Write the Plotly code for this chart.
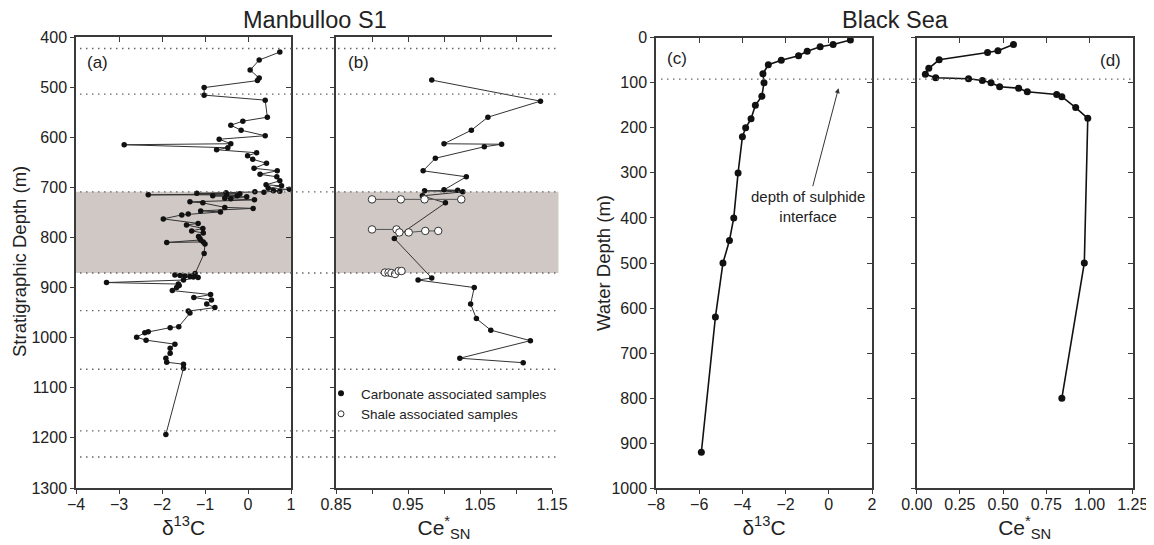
import plotly.graph_objects as go

# ---------------- data ----------------
# Panel (a): Manbulloo S1 carbonate d13C vs stratigraphic depth (m)
a_depth = [430, 446, 466, 482, 487, 501, 516, 526, 560, 568, 576, 586, 597, 604, 613, 615, 621, 625,
           631, 637, 644, 652, 662, 667, 674, 679, 687, 695, 697, 702, 704, 707, 708, 709, 710,
           711, 712, 713, 715, 715, 717, 717, 719, 722, 723, 725, 729, 731, 740, 742, 747, 749,
           753, 755, 763, 772, 775, 782, 787, 791, 798, 802, 805, 810, 809, 813, 832,
           872, 875, 876, 877, 878, 879, 880, 885, 890, 893, 896, 900, 906, 914, 920, 925, 933,
           940, 947, 951, 978, 980, 988, 990, 999, 1005, 1013, 1021, 1031, 1041, 1049, 1053, 1061, 1193]
a_d13c = [0.74, 0.26, 0.05, 0.26, 0.22, -1.02, -1.02, 0.40, 0.45, -0.12, -0.40, -0.16, 0.40, -0.67, -0.40, -2.88, -0.47, -0.73,
          0.20, -0.01, 0.11, 0.43, 0.14, 0.68, 0.28, 0.67, 0.74, 0.42, 0.78, 0.47, 0.96, 0.59, 0.74, 0.16, 0.37,
          -0.51, -1.19, -0.19, -2.32, -0.50, -0.25, -0.82, -0.03, -0.54, -0.40, 0.15, -1.35, -1.05, -0.54, 0.12, -1.10, -0.64,
          -1.39, -1.54, -1.97, -1.16, -1.43, -1.05, -1.31, -1.04, -1.15, -1.12, -1.10, -1.89, -1.04, -1.00, -1.02,
          -1.23, -1.70, -1.58, -1.47, -1.35, -1.27, -1.16, -1.50, -3.29, -1.62, -1.60, -1.66, -1.76, -0.87, -1.26, -0.85, -0.96,
          -0.77, -1.39, -1.35, -1.61, -1.81, -2.32, -2.40, -2.59, -2.37, -1.70, -1.81, -1.81, -1.91, -1.89, -1.50, -1.50, -1.91]

# Panel (b): Ce*SN, carbonate associated samples
b_carb_depth = [486, 528, 560, 586, 613, 614, 619, 642, 667, 679, 705, 706, 707, 709, 717, 731, 802,
                881, 885, 900, 933, 962, 985, 1006, 1041, 1050]
b_carb_ce = [0.983, 1.134, 1.061, 1.038, 1.000, 1.080, 1.056, 0.988, 0.971, 1.031, 1.000, 1.019, 0.973, 1.026, 0.970, 1.002, 0.931,
             0.983, 0.964, 1.042, 1.037, 1.045, 1.065, 1.120, 1.022, 1.110]
# Panel (b): shale associated samples (three sample groups)
b_shale1_depth = [724, 724, 724, 724]
b_shale1_ce = [0.900, 0.940, 0.973, 1.024]
b_shale2_depth = [784, 784, 790, 790, 787, 787]
b_shale2_ce = [0.900, 0.934, 0.938, 0.951, 0.974, 0.992]
b_shale3_depth = [870, 870, 871, 873, 867, 867]
b_shale3_ce = [0.918, 0.923, 0.927, 0.932, 0.937, 0.941]

# Panel (c): Black Sea d13C vs water depth (m)
c_depth = [5, 15, 20, 30, 40, 50, 60, 80, 100, 130, 150, 180, 200, 220, 300, 400, 450, 500, 620, 920]
c_d13c = [1.0, 0.2, -0.4, -1.0, -1.4, -2.2, -2.8, -3.05, -3.0, -3.1, -3.4, -3.6, -3.85, -4.0, -4.2, -4.4, -4.6, -4.9, -5.25, -5.9]

# Panel (d): Black Sea Ce*SN vs water depth (m)
d_depth = [15, 29, 33, 49, 68, 81, 89, 91, 95, 100, 109, 112, 120, 126, 131, 155, 179, 500, 800]
d_ce = [0.56, 0.47, 0.41, 0.13, 0.07, 0.05, 0.11, 0.30, 0.38, 0.43, 0.48, 0.59, 0.64, 0.81, 0.84, 0.92, 0.99, 0.97, 0.84]

# boundaries
manbulloo_boundaries = [423, 514, 709, 871, 946, 1063, 1186, 1238]
shaded_interval = [709, 871]
sulphide_interface_depth = 92

# tick labels
a_ticks = [-4, -3, -2, -1, 0, 1]
b_ticks = [0.85, 0.95, 1.05, 1.15]
b_minor_ticks = [0.90, 1.00, 1.10]
b_all_ticks = [0.85, 0.90, 0.95, 1.00, 1.05, 1.10, 1.15]
d_ticks = [0, 0.25, 0.5, 0.75, 1.0, 1.25]
d_ticktext = ["0.00", "0.25", "0.50", "0.75", "1.00", "1.25"]

# ---------------- layout geometry ----------------
# the page body adds an 8px offset; the figure fills the rest of the window
OFF = 8
W, H = 1154 - OFF, 545 - OFF
FONT = "Liberation Sans"
AX = "#3a3a3a"
TXT = "#222222"

def px(x):
    return (x - OFF) / W

def py(y):
    return 1 - (y - OFF) / H

dom_a = [px(76), px(291)]
dom_b = [px(336), px(552)]
dom_c = [px(656), px(872)]
dom_d = [px(916.7), px(1132.7)]
ydom_ab = [py(488), py(37)]
ydom_cd = [py(488.3), py(37.7)]

fig = go.Figure()

line_a = dict(color="#333333", width=1)
mk = dict(color="#111111", size=5.5)

fig.add_trace(go.Scatter(x=a_d13c, y=a_depth, mode="lines+markers", line=line_a, marker=mk,
                         xaxis="x", yaxis="y", showlegend=False))
fig.add_trace(go.Scatter(x=b_carb_ce, y=b_carb_depth, mode="lines+markers", line=line_a, marker=mk,
                         xaxis="x2", yaxis="y2", showlegend=False))
for sd, sc in [(b_shale1_depth, b_shale1_ce), (b_shale2_depth, b_shale2_ce), (b_shale3_depth, b_shale3_ce)]:
    fig.add_trace(go.Scatter(x=sc, y=sd, mode="lines+markers", line=dict(color="#555555", width=1),
                             marker=dict(color="white", size=7.5, line=dict(color="#333333", width=1)),
                             xaxis="x2", yaxis="y2", showlegend=False))
# legend entries
fig.add_trace(go.Scatter(x=[None], y=[None], mode="markers", name="Carbonate associated samples",
                         marker=dict(color="#111111", size=6), xaxis="x2", yaxis="y2"))
fig.add_trace(go.Scatter(x=[None], y=[None], mode="markers", name="Shale associated samples",
                         marker=dict(color="white", size=6, line=dict(color="#333333", width=1)),
                         xaxis="x2", yaxis="y2"))

line_cd = dict(color="#111111", width=1.6)
mk_cd = dict(color="#111111", size=7)
fig.add_trace(go.Scatter(x=c_d13c, y=c_depth, mode="lines+markers", line=line_cd, marker=mk_cd,
                         xaxis="x3", yaxis="y3", showlegend=False))
fig.add_trace(go.Scatter(x=d_ce, y=d_depth, mode="lines+markers", line=line_cd, marker=mk_cd,
                         xaxis="x4", yaxis="y4", showlegend=False))

tickfont = dict(family=FONT, size=16, color=TXT)
base_axis = dict(showgrid=False, zeroline=False, showline=True, linecolor=AX, linewidth=1.5,
                 ticks="outside", ticklen=4, tickwidth=1.2, tickcolor=AX, tickfont=tickfont,
                 automargin=False)
xbase = dict(base_axis, ticklabelstandoff=-3)

xt_font = dict(family=FONT, size=21, color=TXT)

fig.update_layout(
    width=W, height=H,
    margin=dict(l=0, r=0, t=0, b=0, autoexpand=False),
    paper_bgcolor="white", plot_bgcolor="rgba(0,0,0,0)",
    font=dict(family=FONT, color=TXT),
    xaxis=dict(xbase, domain=dom_a, range=[-4, 1], tickvals=a_ticks, anchor="y",
               title=dict(text="δ<sup>13</sup>C", font=xt_font, standoff=2), mirror=True),
    yaxis=dict(base_axis, domain=ydom_ab, range=[1300, 400], dtick=100, anchor="x", mirror=True),
    xaxis2=dict(xbase, domain=dom_b, range=[0.85, 1.15], tickvals=b_ticks, anchor="y2",
                minor=dict(tickvals=b_minor_ticks, ticks="outside", ticklen=4, tickwidth=1.2, tickcolor=AX),
                title=dict(text="Ce<sup>*</sup><sub>SN</sub>", font=xt_font, standoff=2), mirror=True),
    yaxis2=dict(base_axis, domain=ydom_ab, range=[1300, 400], dtick=100, anchor="x2", showticklabels=False),
    xaxis3=dict(xbase, domain=dom_c, range=[-8, 2], dtick=2, anchor="y3",
                title=dict(text="δ<sup>13</sup>C", font=xt_font, standoff=2), mirror=True),
    yaxis3=dict(base_axis, domain=ydom_cd, range=[1000, 0], dtick=100, anchor="x3", mirror=True),
    xaxis4=dict(xbase, domain=dom_d, range=[0, 1.25], tickvals=d_ticks, ticktext=d_ticktext, anchor="y4",
                title=dict(text="Ce<sup>*</sup><sub>SN</sub>", font=xt_font, standoff=2), mirror=True),
    yaxis4=dict(base_axis, domain=ydom_cd, range=[1000, 0], dtick=100, anchor="x4", showticklabels=False,
                mirror=True),
    legend=dict(x=px(321), y=py(378), xanchor="left", yanchor="top", bgcolor="rgba(0,0,0,0)",
                font=dict(family=FONT, size=13.5, color=TXT), itemwidth=30, tracegroupgap=0),
)

# inward ticks on top / right spines (overlay axes)
inner = dict(showgrid=False, zeroline=False, showline=False, ticks="inside", ticklen=5, tickwidth=1.2,
             tickcolor=AX, showticklabels=False, automargin=False)
fig.update_layout(
    xaxis5=dict(inner, overlaying="x", side="top", anchor="y", range=[-4, 1], tickvals=a_ticks),
    xaxis6=dict(inner, overlaying="x2", side="top", anchor="y2", range=[0.85, 1.15], tickvals=b_all_ticks),
    xaxis7=dict(inner, overlaying="x3", side="top", anchor="y3", range=[-8, 2], dtick=2),
    xaxis8=dict(inner, overlaying="x4", side="top", anchor="y4", range=[0, 1.25], tickvals=d_ticks),
    yaxis5=dict(inner, overlaying="y", side="right", anchor="x", range=[1300, 400], dtick=100),
    yaxis6=dict(inner, overlaying="y3", side="right", anchor="x3", range=[1000, 0], dtick=100),
    yaxis7=dict(inner, overlaying="y4", side="right", anchor="x4", range=[1000, 0], dtick=100),
)
for xa, ya in [("x5", "y"), ("x6", "y2"), ("x7", "y3"), ("x8", "y4"), ("x", "y5"), ("x3", "y6"), ("x4", "y7")]:
    fig.add_trace(go.Scatter(x=[None], y=[None], xaxis=xa, yaxis=ya, showlegend=False, hoverinfo="skip"))

# shaded interval in panels (a) and (b)
for xr, yr, x1 in [("x domain", "y", 1), ("x2 domain", "y2", 1.03)]:
    fig.add_shape(type="rect", xref=xr, yref=yr, x0=0, x1=x1, y0=shaded_interval[0], y1=shaded_interval[1],
                  fillcolor="#cfc8c4", line=dict(width=0), layer="below")

dot_line = dict(color="#666666", width=1.4, dash="1.5px,4.5px")
# dotted boundary lines across panels (a) and (b)
for d in manbulloo_boundaries:
    fig.add_shape(type="line", xref="paper", yref="y", x0=px(80), x1=px(558), y0=d, y1=d,
                  line=dot_line, layer="above")

# sulphide interface line across (c) and (d)
fig.add_shape(type="line", xref="paper", yref="y3", x0=px(661), x1=px(1132), y0=sulphide_interface_depth,
              y1=sulphide_interface_depth, line=dot_line)

def label(text, x, y, size, angle=0):
    fig.add_annotation(text=text, xref="paper", yref="paper", x=px(x), y=py(y), showarrow=False,
                       xanchor="center", yanchor="middle", textangle=angle,
                       font=dict(family=FONT, size=size, color=TXT))

label("(a)", 97, 62, 17)
label("(b)", 358, 62, 17)
label("(c)", 677, 59, 17)
label("(d)", 1110, 60, 17)
label("Manbulloo S1", 315, 20, 23.5)
label("Black Sea", 895, 20, 23.5)
label("Stratigraphic Depth (m)", 19, 262, 18.5, -90)
label("Water Depth (m)", 603, 263, 18.5, -90)

fig.add_annotation(text="depth of sulphide<br>interface", xref="x3", yref="y3", x=0.45, y=112,
                   axref="pixel", ayref="pixel", ax=-31, ay=118, showarrow=True, arrowhead=2, arrowsize=1,
                   arrowwidth=1, arrowcolor="#333333", font=dict(family=FONT, size=15, color=TXT))

fig.write_html("out.html")
